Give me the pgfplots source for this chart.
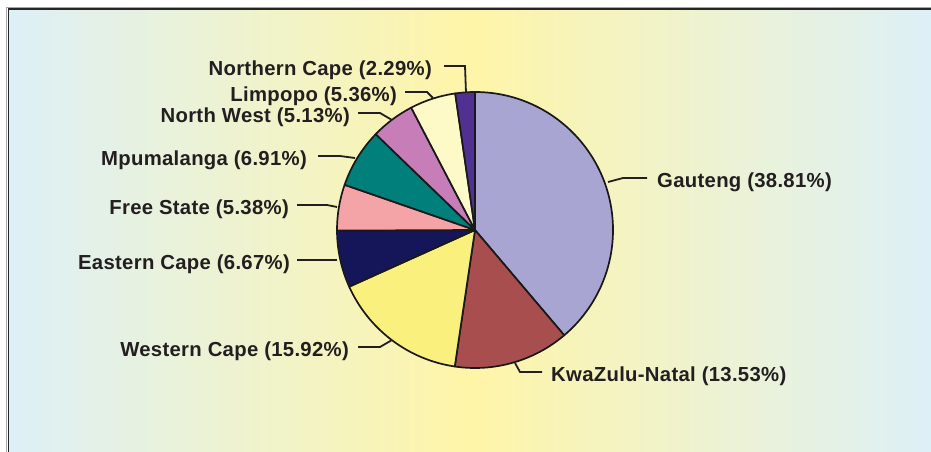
\documentclass[border=0pt]{standalone}
\usepackage{pgfplots}
\usepackage{pgfplotstable}
\pgfplotsset{compat=1.18}
\usepackage{fontspec}
\setmainfont{Liberation Sans}
\newfontfamily\lblfont[LetterSpace=1.5]{Liberation Sans}

\definecolor{cG}{RGB}{168,165,210}
\definecolor{cKZN}{RGB}{169,78,78}
\definecolor{cWC}{RGB}{250,240,126}
\definecolor{cEC}{RGB}{20,22,89}
\definecolor{cFS}{RGB}{244,164,166}
\definecolor{cMP}{RGB}{0,127,123}
\definecolor{cNW}{RGB}{198,125,184}
\definecolor{cLP}{RGB}{254,250,200}
\definecolor{cNC}{RGB}{80,48,144}
\definecolor{bgEdge}{RGB}{221,240,247}
\definecolor{bgMid}{RGB}{255,245,168}
\definecolor{txt}{RGB}{35,31,32}

\pgfplotstableread{
name value col
Gauteng 38.81 cG
KwaZulu-Natal 13.53 cKZN
Western-Cape 15.92 cWC
Eastern-Cape 6.67 cEC
Free-State 5.38 cFS
Mpumalanga 6.91 cMP
North-West 5.13 cNW
Limpopo 5.36 cLP
Northern-Cape 2.29 cNC
}\piedata

\begin{document}
\begin{tikzpicture}
\begin{axis}[
  x=1pt, y=1pt, scale only axis,
  xmin=0, xmax=931, ymin=0, ymax=452,
  y dir=reverse,
  hide axis, clip=true,
]
% background
\fill[white] (axis cs:0,0) rectangle (axis cs:931,452);
\shade[left color=bgEdge, right color=bgEdge, middle color=bgMid] (axis cs:8,9) rectangle (axis cs:931,452);
\draw[gray!70, line width=0.8pt] (axis cs:6.5,452) -- (axis cs:6.5,7.5) -- (axis cs:931,7.5);
\draw[black!85, line width=1.6pt] (axis cs:8.5,452) -- (axis cs:8.5,9) -- (axis cs:931,9);

% pie slices
\pgfplotstablegetrowsof{\piedata}
\pgfmathtruncatemacro\N{\pgfplotsretval-1}
\def\cum{0}
\pgfplotsforeachungrouped \i in {0,...,\N}{%
  \pgfplotstablegetelem{\i}{value}\of\piedata \let\v\pgfplotsretval
  \pgfplotstablegetelem{\i}{col}\of\piedata \let\c\pgfplotsretval
  \pgfmathsetmacro\aone{90-3.6*\cum}%
  \pgfmathsetmacro\atwo{90-3.6*(\cum+\v)}%
  \pgfmathsetmacro\cum{\cum+\v}%
  \edef\tmp{\noexpand\filldraw[fill=\c, draw=black!90, line width=1.7pt, line join=round] (axis cs:475,230) -- ++(\aone:138pt) arc[start angle=\aone, end angle=\atwo, radius=138pt] -- cycle;}%
  \tmp
}

% leaders
\begin{scope}[draw=txt, line width=1.8pt]
\draw (axis cs:608,182) -- (axis cs:623,178) -- (axis cs:647,178);
\draw (axis cs:515,363) -- (axis cs:520,372) -- (axis cs:542,372);
\draw (axis cs:392,340) -- (axis cs:380,347) -- (axis cs:358,347);
\draw (axis cs:337,260) -- (axis cs:297,260);
\draw (axis cs:337,207) -- (axis cs:327,205) -- (axis cs:297,205);
\draw (axis cs:355,158) -- (axis cs:340,156) -- (axis cs:318,156);
\draw (axis cs:392,120) -- (axis cs:380,113) -- (axis cs:358,113);
\draw (axis cs:433,98) -- (axis cs:427,92) -- (axis cs:405,92);
\draw (axis cs:466,93) -- (axis cs:465,66) -- (axis cs:444,66);
\end{scope}

% labels
\begin{scope}[every node/.style={font=\lblfont\fontsize{20.3}{24}\selectfont\bfseries, text=txt, inner sep=0pt}]
\node[anchor=base west] at (axis cs:657,187) {Gauteng (38.81\%)};
\node[anchor=base west] at (axis cs:551,381) {KwaZulu-Natal (13.53\%)};
\node[anchor=base east] at (axis cs:349,356) {Western Cape (15.92\%)};
\node[anchor=base east] at (axis cs:290,269) {Eastern Cape (6.67\%)};
\node[anchor=base east] at (axis cs:289,214) {Free State (5.38\%)};
\node[anchor=base east] at (axis cs:307,165) {Mpumalanga (6.91\%)};
\node[anchor=base east] at (axis cs:350,122) {North West (5.13\%)};
\node[anchor=base east] at (axis cs:397,101) {Limpopo (5.36\%)};
\node[anchor=base east] at (axis cs:432,75) {Northern Cape (2.29\%)};
\end{scope}
\end{axis}
\end{tikzpicture}
\end{document}
